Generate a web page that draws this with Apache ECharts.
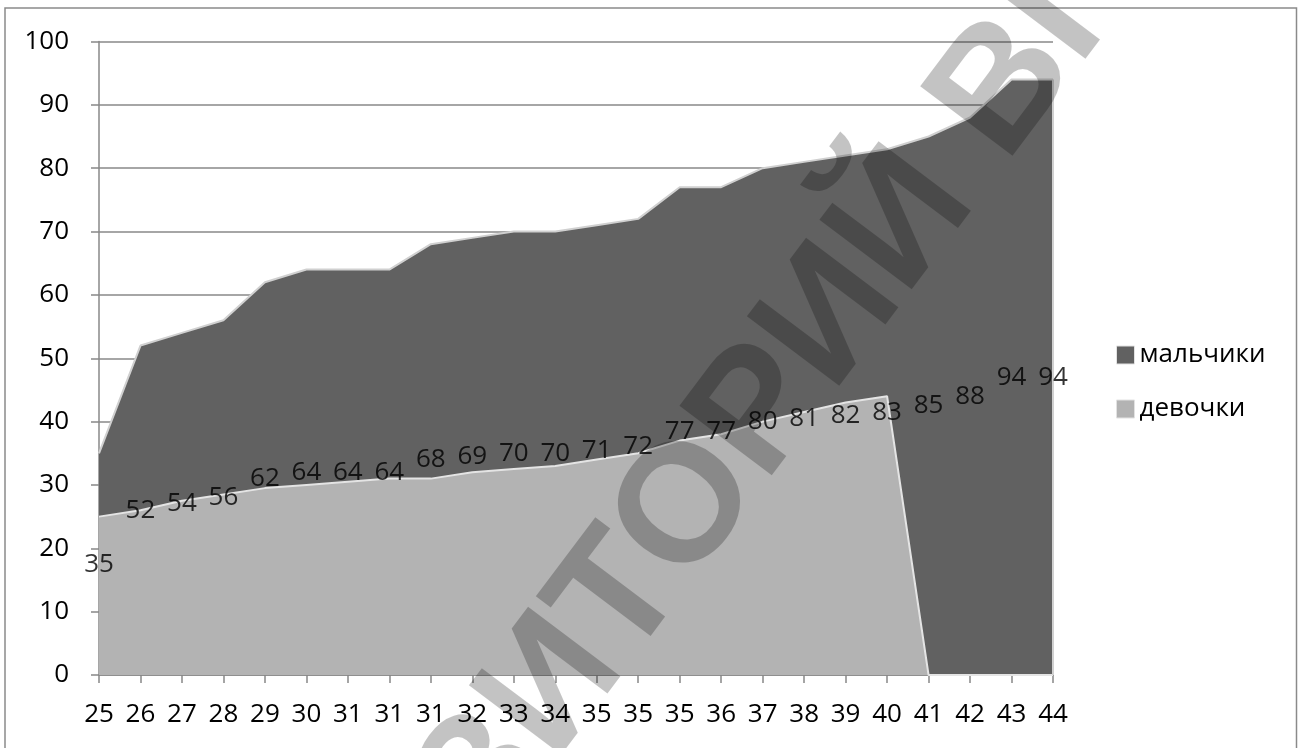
<!DOCTYPE html>
<html>
<head>
<meta charset="utf-8">
<script src="https://cdn.jsdelivr.net/npm/echarts@6/dist/echarts.min.js"></script>
<style>
  html, body { margin: 0; padding: 0; background: #fff; }
  #chart { width: 1298px; height: 748px; }
</style>
</head>
<body>
<div id="chart"></div>
<script>
// Age categories along the horizontal axis
const categories = ['25','26','27','28','29','30','31','31','31','32','33','34','35','35','35','36','37','38','39','40','41','42','43','44'];
// Values for boys (labelled) and girls
const boys  = [35, 52, 54, 56, 62, 64, 64, 64, 68, 69, 70, 70, 71, 72, 77, 77, 80, 81, 82, 83, 85, 88, 94, 94];
const girls = [25, 26, 27.5, 28.5, 29.5, 30, 30.5, 31, 31, 32, 32.5, 33, 34, 35, 37, 38, 40, 41.5, 43, 44, 0, 0, 0, 0];
const seriesNames = ['мальчики', 'девочки'];
const yTicks = { min: 0, max: 100, interval: 10 };

const FONT = '"Open Sans", "DejaVu Sans", sans-serif';
const DARK = '#616161';
const LIGHT = '#b3b3b3';
const AXIS = '#888888';

const chart = echarts.init(document.getElementById('chart'), null, { renderer: 'canvas' });

// Boys' labels sit halfway up their area, showing the full value
const labelPoints = boys.map((v, i) => [i, v / 2, v]);
const lastIdx = boys.length - 1;

chart.setOption({
  animation: false,
  backgroundColor: '#ffffff',
  grid: { left: 99, right: 245, top: 41.5, bottom: 73, containLabel: false, outerBoundsMode: 'none' },
  legend: {
    orient: 'vertical',
    left: 1111,
    top: 337,
    itemWidth: 18,
    itemHeight: 18,
    itemGap: 28,
    icon: 'rect',
    data: seriesNames,
    textStyle: { fontFamily: FONT, fontSize: 26, color: '#000' },
    itemStyle: { borderColor: '#e2e2e2', borderWidth: 1 }
  },
  xAxis: {
    type: 'category',
    data: categories,
    boundaryGap: false,
    axisLine: { show: true, lineStyle: { color: AXIS, width: 1.5 } },
    axisTick: { show: true, length: 8, interval: 0, lineStyle: { color: AXIS, width: 1.5 } },
    axisLabel: { interval: 0, margin: 27, fontFamily: FONT, fontSize: 26, color: '#000' },
    splitLine: { show: false }
  },
  yAxis: {
    type: 'value',
    min: yTicks.min,
    max: yTicks.max,
    interval: yTicks.interval,
    axisLine: { show: true, lineStyle: { color: AXIS, width: 1.5 } },
    axisTick: { show: true, length: 8, lineStyle: { color: AXIS, width: 1.5 } },
    axisLabel: { margin: 30, fontFamily: FONT, fontSize: 26, color: '#000' },
    splitLine: { show: true, lineStyle: { color: AXIS, width: 1.5 } }
  },
  series: [
    {
      name: seriesNames[0],
      type: 'line',
      data: boys,
      symbol: 'none',
      color: DARK,
      z: 2,
      lineStyle: { color: '#d0d0d0', width: 2 },
      areaStyle: { color: DARK, opacity: 1 },
      markLine: {
        silent: true,
        symbol: 'none',
        label: { show: false },
        lineStyle: { color: '#d0d0d0', width: 2, type: 'solid' },
        data: [[{ coord: [lastIdx, 0] }, { coord: [lastIdx, boys[lastIdx]] }]]
      }
    },
    {
      name: seriesNames[1],
      type: 'line',
      data: girls,
      symbol: 'none',
      color: LIGHT,
      z: 3,
      lineStyle: { color: '#e4e4e4', width: 2 },
      areaStyle: { color: LIGHT, opacity: 1 }
    },
    {
      name: 'labels',
      type: 'scatter',
      data: labelPoints,
      symbolSize: 0,
      z: 5,
      silent: true,
      label: {
        show: true,
        position: 'inside',
        formatter: p => String(p.value[2]),
        fontFamily: FONT,
        fontSize: 26,
        color: '#000'
      }
    }
  ],
  graphic: [
    {
      type: 'rect',
      silent: true,
      z: 0,
      shape: { x: 5, y: 8, width: 1291.5, height: 760 },
      style: { fill: 'none', stroke: '#8a8a8a', lineWidth: 1.5 }
    },
    {
      type: 'text',
      silent: true,
      z: 100,
      x: 665,
      y: 540,
      rotation: 53 * Math.PI / 180,
      style: {
        text: 'РЕПОЗИТОРИЙ ВГУ',
        font: 'bold 168px "Liberation Sans", Arial, sans-serif',
        fill: 'rgba(0,0,0,0.235)',
        textAlign: 'center',
        textVerticalAlign: 'middle'
      }
    }
  ]
});
</script>
</body>
</html>
